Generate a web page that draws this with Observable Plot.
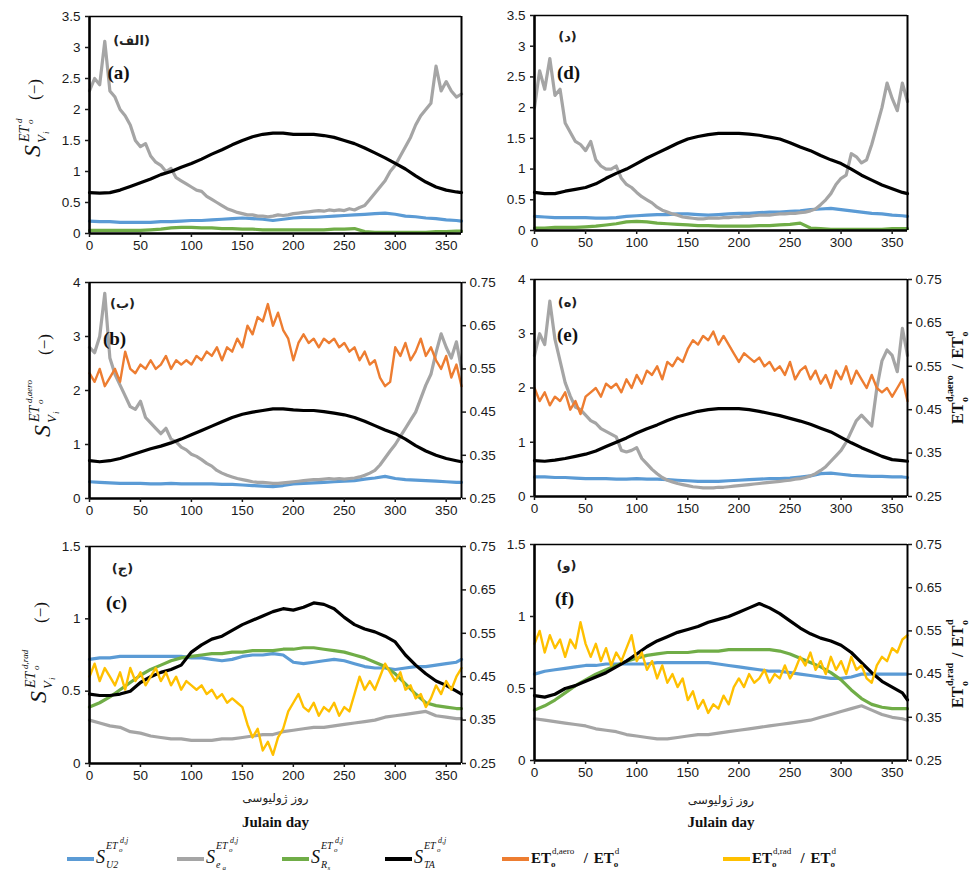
<!DOCTYPE html>
<html><head><meta charset="utf-8">
<script src="https://cdn.jsdelivr.net/npm/d3@7"></script>
<script src="https://cdn.jsdelivr.net/npm/@observablehq/plot@0.6"></script>
<style>
body{margin:0;background:#fff;}
#wrap{position:relative;width:972px;height:875px;overflow:hidden;background:#fff;}
#wrap > svg{position:absolute;}
</style></head><body><div id="wrap"></div>
<script>
// ---------- x categories (Julian day) ----------
const days5 = [0,5,10,15,20,25,30,35,40,45,50,55,60,65,70,75,80,85,90,95,100,105,110,115,120,125,130,135,140,145,150,155,160,165,170,175,180,185,190,195,200,205,210,215,220,225,230,235,240,245,250,255,260,265,270,275,280,285,290,295,300,305,310,315,320,325,330,335,340,345,350,355,360,365];
const days10 = [0,10,20,30,40,50,60,70,80,90,100,110,120,130,140,150,160,170,180,190,200,210,220,230,240,250,260,270,280,290,300,310,320,330,340,350,360,365];
const xTicks = [0,50,100,150,200,250,300,350];
const yTicksA = [0,0.5,1,1.5,2,2.5,3,3.5];
const yTicksB = [0,1,2,3,4];
const yTicksC = [0,0.5,1,1.5];
const ratioTicks = [0.25,0.35,0.45,0.55,0.65,0.75];

// ---------- panel (a) ----------
const a_blue = [0.2,0.19,0.19,0.18,0.18,0.18,0.18,0.19,0.19,0.2,0.21,0.21,0.22,0.23,0.24,0.25,0.24,0.23,0.21,0.23,0.25,0.26,0.26,0.27,0.28,0.29,0.3,0.31,0.32,0.33,0.31,0.28,0.27,0.25,0.24,0.22,0.21,0.2];
const a_gray = [2.3,2.5,2.4,3.1,2.3,2.2,2.0,1.9,1.75,1.5,1.4,1.45,1.25,1.15,1.1,1.0,1.05,0.9,0.85,0.8,0.75,0.7,0.68,0.6,0.55,0.5,0.45,0.4,0.37,0.34,0.32,0.3,0.3,0.28,0.28,0.27,0.28,0.3,0.29,0.3,0.32,0.33,0.34,0.35,0.36,0.37,0.36,0.38,0.37,0.38,0.37,0.4,0.38,0.42,0.45,0.55,0.65,0.75,0.85,1.0,1.1,1.25,1.4,1.55,1.75,1.9,2.0,2.1,2.7,2.3,2.45,2.3,2.2,2.25];
const a_green = [0.05,0.05,0.05,0.05,0.05,0.05,0.06,0.07,0.09,0.1,0.1,0.09,0.09,0.08,0.08,0.07,0.07,0.06,0.06,0.06,0.06,0.06,0.06,0.06,0.07,0.07,0.08,0.03,0.02,0.02,0.02,0.02,0.02,0.02,0.03,0.03,0.04,0.04];
const a_black = [0.66,0.65,0.66,0.7,0.76,0.82,0.88,0.95,1.0,1.07,1.13,1.2,1.28,1.35,1.43,1.5,1.56,1.6,1.62,1.62,1.6,1.6,1.6,1.58,1.55,1.5,1.45,1.38,1.3,1.22,1.13,1.04,0.93,0.83,0.75,0.7,0.67,0.66];

// ---------- panel (d) ----------
const d_blue = [0.23,0.22,0.21,0.21,0.21,0.21,0.2,0.2,0.21,0.23,0.24,0.25,0.26,0.26,0.27,0.27,0.26,0.25,0.26,0.27,0.28,0.28,0.29,0.3,0.3,0.31,0.32,0.34,0.35,0.36,0.34,0.32,0.3,0.28,0.27,0.25,0.24,0.23];
const d_gray = [2.0,2.6,2.3,2.8,2.2,2.3,1.75,1.6,1.45,1.4,1.3,1.45,1.15,1.05,1.0,1.0,1.05,0.85,0.75,0.7,0.62,0.55,0.5,0.45,0.38,0.33,0.3,0.27,0.25,0.22,0.21,0.2,0.19,0.19,0.2,0.2,0.2,0.21,0.21,0.22,0.22,0.23,0.23,0.24,0.25,0.25,0.25,0.26,0.27,0.27,0.28,0.28,0.29,0.3,0.32,0.35,0.42,0.5,0.6,0.75,0.85,0.9,1.25,1.2,1.1,1.15,1.4,1.7,2.0,2.4,2.15,1.95,2.4,2.1];
const d_green = [0.04,0.04,0.05,0.05,0.05,0.06,0.07,0.09,0.11,0.14,0.15,0.14,0.12,0.11,0.1,0.09,0.08,0.08,0.07,0.07,0.07,0.07,0.08,0.08,0.09,0.1,0.12,0.04,0.03,0.02,0.02,0.02,0.02,0.02,0.02,0.03,0.03,0.03];
const d_black = [0.62,0.6,0.6,0.64,0.67,0.7,0.76,0.85,0.93,1.0,1.09,1.18,1.26,1.34,1.42,1.49,1.53,1.56,1.58,1.58,1.58,1.57,1.55,1.52,1.49,1.43,1.36,1.3,1.22,1.15,1.09,1.0,0.9,0.82,0.74,0.68,0.62,0.6];

// ---------- panel (b) ----------
const b_blue = [0.31,0.3,0.29,0.28,0.28,0.28,0.27,0.27,0.28,0.27,0.27,0.27,0.27,0.26,0.26,0.25,0.24,0.23,0.22,0.24,0.27,0.28,0.29,0.3,0.31,0.32,0.33,0.36,0.38,0.41,0.37,0.35,0.34,0.33,0.32,0.31,0.3,0.3];
const b_gray = [2.8,2.7,3.0,3.8,2.6,2.3,2.1,1.9,1.7,1.65,1.8,1.5,1.4,1.3,1.2,1.3,1.1,1.05,0.95,0.9,0.82,0.78,0.72,0.65,0.6,0.52,0.47,0.43,0.4,0.37,0.35,0.33,0.31,0.3,0.3,0.29,0.28,0.28,0.29,0.3,0.31,0.32,0.33,0.34,0.35,0.35,0.36,0.37,0.36,0.37,0.36,0.37,0.38,0.4,0.43,0.47,0.52,0.62,0.75,0.88,1.0,1.15,1.3,1.45,1.6,1.85,2.1,2.3,2.7,3.05,2.8,2.6,2.9,2.4];
const b_black = [0.7,0.68,0.7,0.74,0.8,0.86,0.92,0.97,1.03,1.1,1.18,1.26,1.34,1.42,1.5,1.56,1.6,1.63,1.66,1.66,1.64,1.63,1.63,1.61,1.58,1.55,1.5,1.43,1.35,1.27,1.2,1.1,0.98,0.88,0.8,0.74,0.7,0.68];
const b_orange = [0.54,0.52,0.55,0.51,0.53,0.55,0.52,0.59,0.55,0.54,0.56,0.55,0.57,0.55,0.56,0.58,0.55,0.57,0.56,0.57,0.56,0.58,0.57,0.59,0.58,0.6,0.57,0.6,0.59,0.62,0.6,0.65,0.63,0.67,0.66,0.7,0.65,0.68,0.64,0.62,0.57,0.61,0.63,0.61,0.62,0.6,0.62,0.61,0.62,0.6,0.61,0.59,0.6,0.57,0.59,0.56,0.57,0.53,0.51,0.52,0.6,0.58,0.61,0.57,0.59,0.62,0.58,0.6,0.57,0.55,0.58,0.53,0.56,0.51];

// ---------- panel (e) ----------
const e_blue = [0.36,0.36,0.35,0.35,0.34,0.33,0.33,0.33,0.32,0.32,0.33,0.32,0.32,0.31,0.3,0.29,0.28,0.28,0.28,0.29,0.3,0.31,0.32,0.33,0.33,0.34,0.36,0.38,0.42,0.43,0.41,0.39,0.38,0.37,0.37,0.36,0.36,0.35];
const e_gray = [2.6,3.0,2.8,3.6,2.9,2.5,2.1,1.85,1.65,1.6,1.5,1.4,1.35,1.25,1.2,1.15,1.1,0.85,0.82,0.85,0.9,0.7,0.6,0.5,0.42,0.35,0.3,0.27,0.24,0.22,0.2,0.18,0.17,0.16,0.16,0.16,0.17,0.17,0.18,0.19,0.2,0.21,0.22,0.23,0.24,0.25,0.26,0.27,0.28,0.29,0.3,0.32,0.33,0.35,0.38,0.42,0.48,0.55,0.65,0.75,0.85,1.0,1.2,1.4,1.5,1.4,1.3,2.0,2.5,2.7,2.6,2.3,3.1,2.6];
const e_black = [0.66,0.65,0.67,0.7,0.74,0.78,0.84,0.92,1.0,1.08,1.17,1.25,1.32,1.4,1.47,1.52,1.57,1.6,1.62,1.62,1.62,1.6,1.57,1.53,1.49,1.44,1.39,1.33,1.26,1.19,1.09,0.99,0.9,0.82,0.74,0.68,0.66,0.65];
const e_orange = [0.5,0.47,0.49,0.46,0.48,0.47,0.49,0.45,0.47,0.44,0.48,0.49,0.5,0.48,0.51,0.5,0.51,0.49,0.52,0.5,0.53,0.51,0.54,0.53,0.55,0.52,0.56,0.55,0.57,0.56,0.59,0.61,0.6,0.62,0.61,0.63,0.6,0.62,0.6,0.58,0.56,0.58,0.57,0.56,0.57,0.55,0.56,0.54,0.55,0.53,0.56,0.52,0.54,0.55,0.52,0.54,0.51,0.53,0.5,0.54,0.52,0.55,0.51,0.54,0.52,0.5,0.53,0.5,0.49,0.5,0.48,0.5,0.52,0.47];

// ---------- panel (c) ----------
const c_blue = [0.72,0.73,0.73,0.74,0.74,0.74,0.74,0.74,0.74,0.74,0.73,0.73,0.72,0.71,0.72,0.74,0.75,0.75,0.76,0.75,0.7,0.69,0.7,0.71,0.72,0.71,0.69,0.67,0.66,0.66,0.65,0.66,0.67,0.67,0.68,0.69,0.7,0.72];
const c_gray = [0.3,0.28,0.26,0.25,0.22,0.21,0.19,0.18,0.17,0.17,0.16,0.16,0.16,0.17,0.17,0.18,0.19,0.2,0.2,0.22,0.23,0.24,0.25,0.25,0.26,0.27,0.28,0.29,0.3,0.32,0.33,0.34,0.35,0.36,0.33,0.32,0.31,0.31];
const c_green = [0.39,0.42,0.46,0.51,0.56,0.61,0.65,0.68,0.71,0.73,0.74,0.75,0.76,0.76,0.77,0.77,0.78,0.78,0.78,0.79,0.79,0.8,0.8,0.79,0.78,0.77,0.75,0.73,0.7,0.67,0.62,0.55,0.48,0.42,0.4,0.39,0.38,0.38];
const c_black = [0.48,0.47,0.47,0.48,0.5,0.56,0.6,0.63,0.65,0.68,0.77,0.82,0.86,0.88,0.92,0.96,0.99,1.02,1.05,1.07,1.06,1.08,1.11,1.1,1.07,1.01,0.96,0.93,0.91,0.88,0.84,0.75,0.68,0.62,0.57,0.54,0.5,0.48];
const c_yellow = [0.45,0.48,0.44,0.47,0.45,0.43,0.46,0.42,0.47,0.44,0.46,0.43,0.45,0.47,0.44,0.46,0.43,0.45,0.42,0.44,0.43,0.42,0.43,0.41,0.42,0.4,0.41,0.39,0.4,0.39,0.38,0.34,0.31,0.33,0.28,0.3,0.27,0.31,0.33,0.37,0.39,0.41,0.38,0.37,0.39,0.36,0.38,0.37,0.39,0.36,0.38,0.37,0.41,0.45,0.42,0.44,0.42,0.45,0.48,0.46,0.44,0.46,0.42,0.43,0.4,0.41,0.38,0.4,0.43,0.41,0.44,0.42,0.45,0.47];

// ---------- panel (f) ----------
const f_blue = [0.6,0.62,0.63,0.64,0.65,0.66,0.66,0.67,0.67,0.67,0.67,0.67,0.68,0.68,0.68,0.68,0.68,0.68,0.67,0.66,0.65,0.64,0.63,0.62,0.62,0.61,0.6,0.59,0.58,0.57,0.57,0.58,0.6,0.6,0.6,0.6,0.6,0.6];
const f_gray = [0.29,0.28,0.27,0.26,0.25,0.24,0.22,0.21,0.2,0.18,0.17,0.16,0.15,0.15,0.16,0.17,0.18,0.18,0.19,0.2,0.21,0.22,0.23,0.24,0.25,0.26,0.27,0.28,0.3,0.32,0.34,0.36,0.38,0.35,0.32,0.3,0.29,0.28];
const f_green = [0.35,0.38,0.42,0.47,0.52,0.56,0.6,0.63,0.66,0.69,0.71,0.73,0.74,0.75,0.75,0.75,0.76,0.76,0.76,0.77,0.77,0.77,0.77,0.77,0.76,0.74,0.71,0.68,0.65,0.61,0.56,0.49,0.43,0.39,0.37,0.36,0.36,0.36];
const f_black = [0.45,0.44,0.46,0.5,0.52,0.55,0.58,0.61,0.65,0.69,0.74,0.79,0.83,0.86,0.89,0.91,0.93,0.96,0.98,1.0,1.03,1.06,1.09,1.06,1.02,0.97,0.92,0.88,0.85,0.83,0.8,0.75,0.68,0.61,0.55,0.51,0.47,0.42];
const f_yellow = [0.52,0.55,0.5,0.54,0.51,0.53,0.49,0.53,0.51,0.57,0.52,0.49,0.52,0.48,0.51,0.47,0.5,0.48,0.51,0.54,0.48,0.5,0.46,0.48,0.44,0.47,0.43,0.45,0.42,0.44,0.39,0.41,0.37,0.39,0.36,0.38,0.37,0.4,0.38,0.42,0.44,0.42,0.45,0.43,0.44,0.46,0.43,0.45,0.44,0.47,0.44,0.46,0.49,0.47,0.5,0.46,0.48,0.45,0.49,0.46,0.48,0.45,0.49,0.46,0.47,0.44,0.43,0.47,0.49,0.48,0.51,0.5,0.53,0.54];

const colors = {blue:"#5B9BD5", gray:"#A5A5A5", green:"#70AD47", black:"#000000", orange:"#ED7D31", yellow:"#FFC000"};
const TICKFONT = "'Liberation Sans Narrow','Liberation Sans',Arial,sans-serif";
const SERIF = "'Liberation Serif','DejaVu Serif',serif";
const ARABIC = "'DejaVu Sans',sans-serif";

function rows(days, vals, f) {
  const n = Math.min(days.length, vals.length), out = [];
  for (let i = 0; i < n; i++) out.push({day: days[i], v: f ? f(vals[i]) : vals[i]});
  return out;
}

const wrap = document.getElementById("wrap");

function richText(svg, tx, ty, rot, items) {
  const g = d3.select(svg).append("g").attr("transform", `translate(${tx},${ty}) rotate(${rot})`);
  for (const it of items) {
    g.append("text").attr("x", it.x).attr("y", it.y || 0)
      .attr("font-size", it.s).attr("font-family", it.f || SERIF)
      .attr("font-style", it.i ? "italic" : "normal")
      .attr("font-weight", it.b ? "bold" : "normal")
      .attr("text-anchor", "start").attr("fill", "#111").text(it.t);
  }
}

function sLabel(sup) {
  return [
    {t:"S", x:0, y:0, s:24, i:true},
    {t:"V", x:14, y:6, s:13, i:true},
    {t:"i", x:23, y:9, s:9, i:true},
    {t:"ET", x:15, y:-11, s:14, i:true},
    {t:"o", x:33, y:-7, s:9, i:true},
    {t:sup, x:34, y:-18, s:9, i:true}
  ];
}

function ratioLabel(sup) {
  const w = sup.length * 4.6;
  return [
    {t:"ET", x:0, y:0, s:16, b:true},
    {t:"o", x:22, y:5, s:10, b:true},
    {t:sup, x:22, y:-10, s:10, b:true},
    {t:"/", x:28 + w, y:0, s:16, b:true},
    {t:"ET", x:38 + w, y:0, s:16, b:true},
    {t:"o", x:60 + w, y:5, s:10, b:true},
    {t:"d", x:60 + w, y:-10, s:10, b:true}
  ];
}

const panels = [
  {left:0, top:0, width:495, height:257, mt:16, mb:24, ml:89, mr:34, ymax:3.5, yticks:yTicksA,
   series:[["blue",a_blue,days10],["gray",a_gray,days5],["green",a_green,days10],["black",a_black,days10]],
   fa:"(الف)", en:"(a)", faPos:[42,24], enPos:[29,56], ylab:{x:40, y:157, sup:"d", par:57}},
  {left:490, top:0, width:482, height:254, mt:15, mb:24, ml:44, mr:65, ymax:3.5, yticks:yTicksA,
   series:[["blue",d_blue,days10],["gray",d_gray,days5],["green",d_green,days10],["black",d_black,days10]],
   fa:"(د)", en:"(d)", faPos:[33,21], enPos:[34,57]},
  {left:0, top:258, width:495, height:264, mt:24, mb:24, ml:89, mr:34, ymax:4, yticks:yTicksB, ratio:true,
   series:[["blue",b_blue,days10],["gray",b_gray,days5],["black",b_black,days10],["orange",b_orange,days5,true]],
   fa:"(ب)", en:"(b)", faPos:[33,21], enPos:[25,56], ylab:{x:50, y:437, sup:"d,aero", par:82}},
  {left:490, top:258, width:482, height:262, mt:21, mb:24, ml:44, mr:65, ymax:4, yticks:yTicksB, ratio:true,
   series:[["blue",e_blue,days10],["gray",e_gray,days5],["black",e_black,days10],["orange",e_orange,days5,true]],
   fa:"(ه)", en:"(e)", faPos:[33,23], enPos:[33,55], rlab:{x:963, y:424, sup:"d,aero"}},
  {left:0, top:522, width:495, height:311, mt:24, mb:70, ml:89, mr:34, ymax:1.5, yticks:yTicksC, ratio:true, xlab:[35,59],
   series:[["blue",c_blue,days10],["gray",c_gray,days10],["green",c_green,days10],["black",c_black,days10],["yellow",c_yellow,days5,true]],
   fa:"(ج)", en:"(c)", faPos:[33,22], enPos:[27,56], ylab:{x:46, y:703, sup:"d,rad", par:80}},
  {left:490, top:522, width:482, height:311, mt:22, mb:73, ml:44, mr:65, ymax:1.5, yticks:yTicksC, ratio:true, xlab:[40,62],
   series:[["blue",f_blue,days10],["gray",f_gray,days10],["green",f_green,days10],["black",f_black,days10],["yellow",f_yellow,days5,true]],
   fa:"(و)", en:"(f)", faPos:[32,21], enPos:[30,54], rlab:{x:963, y:708, sup:"d,rad"}}
];

for (const p of panels) {
  const toLeft = r => (r - 0.25) / 0.5 * p.ymax;
  const marks = [];
  for (const [c, vals, days, secondary] of p.series) {
    marks.push(Plot.line(rows(days, vals, secondary ? toLeft : null), {
      x: "day", y: "v", stroke: colors[c],
      strokeWidth: secondary ? 2.4 : 3.2, strokeLinejoin: "round"
    }));
  }
  marks.push(Plot.ruleY([p.ymax], {stroke: "#000", strokeWidth: 1.3}));
  marks.push(Plot.ruleX([365], {stroke: "#000", strokeWidth: 2}));
  marks.push(Plot.ruleX([0], {stroke: "#000", strokeWidth: 2.6}));
  marks.push(Plot.ruleY([0], {stroke: "#000", strokeWidth: 2.6}));
  marks.push(Plot.axisX({ticks: xTicks, tickSize: 4, tickPadding: 3, label: null, strokeWidth: 1.5}));
  marks.push(Plot.axisY({ticks: p.yticks, tickFormat: d => String(d), tickSize: 4, tickPadding: 5, label: null, strokeWidth: 1.5}));
  if (p.ratio) {
    marks.push(Plot.axisY({anchor: "right", ticks: ratioTicks.map(toLeft),
      tickFormat: d => (d / p.ymax * 0.5 + 0.25).toFixed(2), tickSize: 4, tickPadding: 4, label: null, strokeWidth: 1.5}));
  }
  marks.push(Plot.text([p.fa], {text: d => d, frameAnchor: "top-left", dx: p.faPos[0], dy: p.faPos[1],
    textAnchor: "middle", lineAnchor: "middle", fontFamily: ARABIC, fontSize: 13, fontWeight: "bold", fill: "#222"}));
  marks.push(Plot.text([p.en], {text: d => d, frameAnchor: "top-left", dx: p.enPos[0], dy: p.enPos[1],
    textAnchor: "middle", lineAnchor: "middle", fontFamily: SERIF, fontSize: 19, fontWeight: "bold", fill: "#111"}));
  if (p.xlab) {
    marks.push(Plot.text(["روز ژولیوسی"], {text: d => d, frameAnchor: "bottom", dy: p.xlab[0],
      lineAnchor: "middle", fontFamily: ARABIC, fontSize: 12, fill: "#222"}));
    marks.push(Plot.text(["Julain day"], {text: d => d, frameAnchor: "bottom", dy: p.xlab[1],
      lineAnchor: "middle", fontFamily: SERIF, fontSize: 15, fontWeight: "bold", fill: "#111"}));
  }
  const svg = Plot.plot({
    width: p.width, height: p.height,
    marginTop: p.mt, marginBottom: p.mb, marginLeft: p.ml, marginRight: p.mr,
    x: {domain: [0, 365]},
    y: {domain: [0, p.ymax]},
    style: {fontFamily: TICKFONT, fontSize: "13.5px", color: "#1a1a1a", background: "transparent", overflow: "visible", maxWidth: "none"},
    marks
  });
  svg.style.left = p.left + "px";
  svg.style.top = p.top + "px";
  wrap.appendChild(svg);
  if (p.ylab) {
    const items = sLabel(p.ylab.sup).concat([{t:"(−)", x:p.ylab.par, y:0, s:17}]);
    richText(svg, p.ylab.x - p.left, p.ylab.y - p.top, -90, items);
  }
  if (p.rlab) {
    richText(svg, p.rlab.x - p.left, p.rlab.y - p.top, -90, ratioLabel(p.rlab.sup));
  }
}

// ---------- legend ----------
const legendItems = [
  {color: colors.blue, x: 67, kind: "s", sub: [["U2", 10]]},
  {color: colors.gray, x: 177, kind: "s", sub: [["e", 10], ["a", 7]]},
  {color: colors.green, x: 282, kind: "s", sub: [["R", 10], ["s", 7]]},
  {color: colors.black, x: 385, kind: "s", sub: [["TA", 10]]},
  {color: colors.orange, x: 502, kind: "r", sup: "d,aero"},
  {color: colors.yellow, x: 723, kind: "r", sup: "d,rad"}
];
const leg = d3.select(wrap).append("svg").attr("width", 972).attr("height", 45)
  .style("left", "0px").style("top", "828px");
for (const it of legendItems) {
  leg.append("line").attr("x1", it.x).attr("x2", it.x + 27).attr("y1", 31).attr("y2", 31)
    .attr("stroke", it.color).attr("stroke-width", 4);
  const tx = it.x + 29;
  let items;
  if (it.kind === "s") {
    items = [
      {t:"S", x:0, y:0, s:18, i:true},
      {t:"ET", x:10, y:-14, s:10, i:true},
      {t:"o", x:23, y:-11, s:7, i:true},
      {t:"d,j", x:24, y:-20, s:8, i:true}
    ];
    let sx = 10;
    it.sub.forEach(([t, s], k) => {
      items.push({t, x: sx, y: k === 0 ? 5 : 7, s, i: true});
      sx += t.length * s * 0.65;
    });
  } else {
    const w = it.sup.length * 4.3;
    items = [
      {t:"ET", x:0, y:0, s:15, b:true},
      {t:"o", x:20, y:4, s:9, b:true},
      {t:it.sup, x:21, y:-9, s:9},
      {t:"/", x:27 + w, y:0, s:15, b:true},
      {t:"ET", x:37 + w, y:0, s:15, b:true},
      {t:"o", x:57 + w, y:4, s:9, b:true},
      {t:"d", x:58 + w, y:-9, s:9}
    ];
  }
  richText(leg.node(), tx, 35, 0, items);
}
</script></body></html>
